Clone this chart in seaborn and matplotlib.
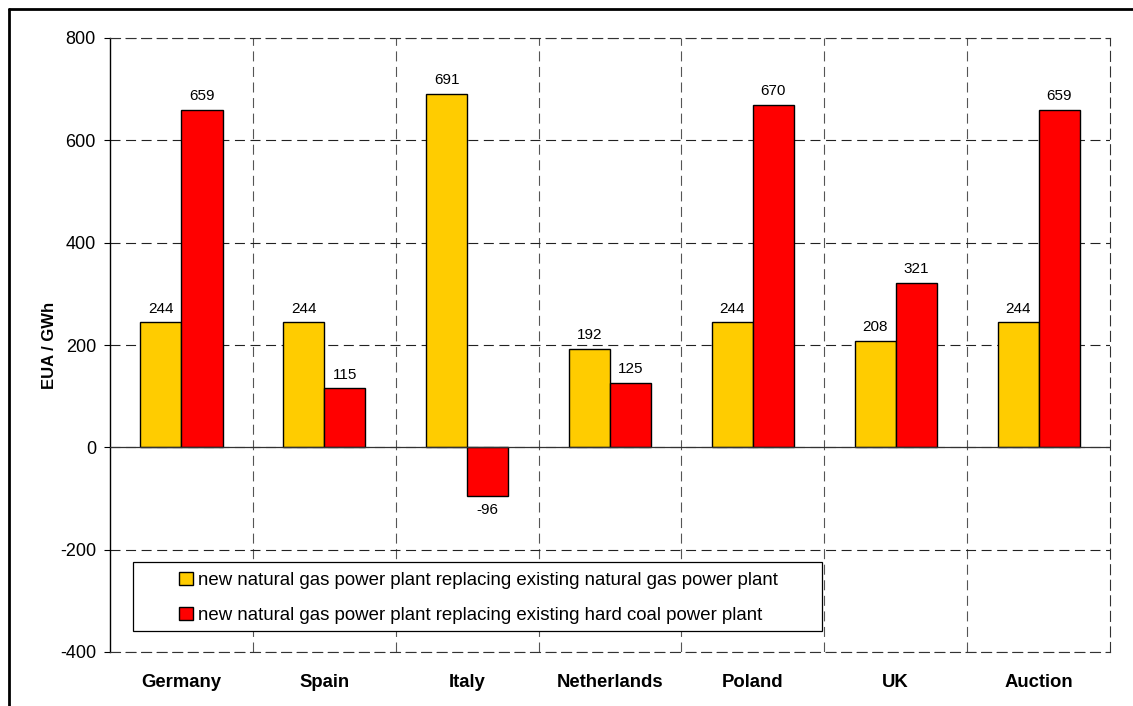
import numpy as np
import pandas as pd
import matplotlib.pyplot as plt
import seaborn as sns
from matplotlib.patches import Patch, Rectangle
from matplotlib.lines import Line2D

# data
countries = ['Germany', 'Spain', 'Italy', 'Netherlands', 'Poland', 'UK', 'Auction']
gas_for_gas = [244, 244, 691, 192, 244, 208, 244]
gas_for_coal = [659, 115, -96, 125, 670, 321, 659]
series_names = ['new natural gas power plant replacing existing natural gas power plant',
                'new natural gas power plant replacing existing hard coal power plant']
colors = ['#FFCC00', '#FF0000']
y_ticks = [-400, -200, 0, 200, 400, 600, 800]

df = pd.DataFrame({
    'country': countries * 2,
    'value': gas_for_gas + gas_for_coal,
    'series': [series_names[0]] * len(countries) + [series_names[1]] * len(countries),
})

sns.set_style('white')
plt.rcParams['font.family'] = ['Liberation Sans', 'DejaVu Sans']
plt.rcParams['axes.unicode_minus'] = False
plt.rcParams['text.color'] = 'black'
plt.rcParams['axes.labelcolor'] = 'black'
plt.rcParams['xtick.color'] = 'black'
plt.rcParams['ytick.color'] = 'black'

fig = plt.figure(figsize=(11.33, 7.06), dpi=100)
ax = fig.add_axes([110 / 1133, 1 - 652 / 706, 1000 / 1133, 614 / 706])

sns.barplot(data=df, x='country', y='value', hue='series', palette=colors,
            width=0.575, edgecolor='black', linewidth=1, saturation=1,
            legend=False, ax=ax, zorder=3)

for cont in ax.containers:
    ax.bar_label(cont, padding=5, fontsize=11, color='black')

ax.set_xlim(-0.5, len(countries) - 0.5)
ax.set_ylim(-400, 800)
ax.set_yticks(y_ticks)

# dashed grid
dash = (0, (9, 5))
ax.yaxis.grid(True, color='#222222', linestyle=dash, linewidth=0.8, zorder=0)
for k in range(len(countries) - 1):
    ax.axvline(k + 0.5, color='#555555', linestyle=dash, linewidth=0.8, zorder=0)
ax.axhline(0, color='#333333', linewidth=0.9, zorder=4)

for side in ['top', 'right', 'bottom']:
    ax.spines[side].set_linestyle(dash)
    ax.spines[side].set_color('#333333')
    ax.spines[side].set_linewidth(0.8)
ax.spines['left'].set_color('black')
ax.spines['left'].set_linewidth(1)

ax.tick_params(axis='y', direction='out', length=4.3, width=0.8, pad=5.8,
               labelsize=13, left=True, color='black')
ax.tick_params(axis='x', length=0, pad=16, labelsize=13.3)
for lbl in ax.get_xticklabels():
    lbl.set_fontweight('bold')

ax.set_xlabel('')
ax.set_ylabel('EUA / GWh', fontsize=12, fontweight='bold', labelpad=2)

# legend box
ax.add_patch(Rectangle((23 / 1000, 21 / 614), 689 / 1000, 69 / 614,
                       transform=ax.transAxes, facecolor='white',
                       edgecolor='black', linewidth=0.9, zorder=5))
handles = [Patch(facecolor=c, edgecolor='black', linewidth=1) for c in colors]
leg = ax.legend(handles, series_names, loc='center left',
                bbox_to_anchor=(69 / 1000, 54 / 614), frameon=False,
                fontsize=13.4, handlelength=0.75, handleheight=0.75,
                handletextpad=0.25, labelspacing=0.95, borderpad=0,
                borderaxespad=0)
leg.set_zorder(6)

# outer frame (top and left edges visible)
fig.add_artist(Line2D([9 / 1133, 9 / 1133], [0, 1 - 9 / 706], color='black',
                      linewidth=2, transform=fig.transFigure))
fig.add_artist(Line2D([9 / 1133, 1], [1 - 9 / 706, 1 - 9 / 706], color='black',
                      linewidth=2, transform=fig.transFigure))

fig.savefig('out.png', dpi=100)
